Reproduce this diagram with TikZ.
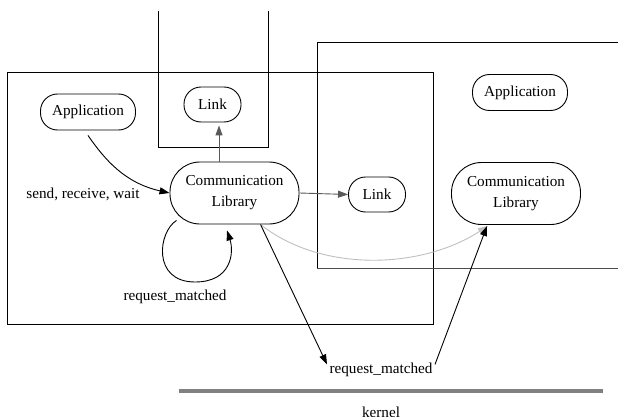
\documentclass[tikz,border=0pt]{standalone}
\usepackage{fontspec}
\setmainfont{Liberation Serif}
\usetikzlibrary{arrows.meta}
\begin{document}
\begin{tikzpicture}[x=1pt,y=-1pt,
  every node/.style={font=\fontsize{15.2}{21}\selectfont, align=center},
  pill/.style={draw=black, line width=0.9pt, inner sep=0pt},
  small/.style={pill, minimum width=95pt, minimum height=36pt, rounded corners=17pt},
  tiny/.style={pill, minimum width=57pt, minimum height=35pt, rounded corners=17pt},
  big/.style={pill, minimum width=129pt, minimum height=62pt, rounded corners=30pt},
  frame/.style={draw=black, line width=1pt},
  blk/.style={draw=black, line width=0.9pt, -{Triangle[length=10pt,width=7pt]}},
  gry/.style={draw=black!65, line width=0.9pt, -{Triangle[length=10pt,width=7pt]}},
  lgry/.style={draw=black!25, line width=0.9pt, -{Triangle[length=10pt,width=7pt]}},
  lbl/.style={inner sep=1pt}
]
\useasboundingbox (0,0) rectangle (618,417);
% frames
\draw[frame] (7,72.5) rectangle (433,324);
\draw[frame] (158,11) -- (158,147) -- (268,147) -- (268,11);
\draw[frame] (618,43) -- (317,43) -- (317,268.5);
\draw[draw=black!70, line width=1.4pt] (317,268.5) -- (618,268.5);
% nodes
\node[small] (appL) at (88,112) {Application};
\node[tiny] (linkT) at (212.5,104.5) {Link};
\node[big] (commL) at (234.5,193) {Communication\\Library};
\node[tiny] (linkM) at (377,194.5) {Link};
\node[small] (appR) at (520,92.5) {Application};
\node[big] (commR) at (516,193.5) {Communication\\Library};
\node[lbl] (srw) at (83,194) {send, receive, wait};
\node[lbl] (rmL) at (175,296.5) {request\_matched};
\node[lbl] (rmB) at (381,369.5) {request\_matched};
\node[lbl] (kern) at (381,412) {kernel};
% kernel line
\coordinate (k1) at (179,391);
\coordinate (k2) at (603,391);
\draw[draw=black!50, line width=3.6pt] (k1) -- (k2);
% edges
\draw[blk] ([yshift=-5pt]appL.south) .. controls (105,160) and (125,183) .. (commL.west);
\draw[gry] ([xshift=-15.5pt]commL.north) -- ([xshift=6.5pt,yshift=-3pt]linkT.south);
\draw[gry] (commL.east) -- (linkM.west);
\draw[blk] ([xshift=-58pt,yshift=4pt]commL.south) .. controls (158,232) and (152,282) .. (195,282)
  .. controls (232,282) and (234,252) .. ([xshift=-7.5pt,yshift=-6pt]commL.south);
\draw[lgry] ([xshift=26pt]commL.south) .. controls (320,272) and (420,270) .. ([xshift=-28pt,yshift=-1pt]commR.south);
\draw[blk] ([xshift=26pt]commL.south) -- ([xshift=-54pt,yshift=-3pt]rmB.north);
\draw[blk] ([xshift=54pt,yshift=-3pt]rmB.north) -- ([xshift=-29pt,yshift=-1pt]commR.south);
\end{tikzpicture}
\end{document}
